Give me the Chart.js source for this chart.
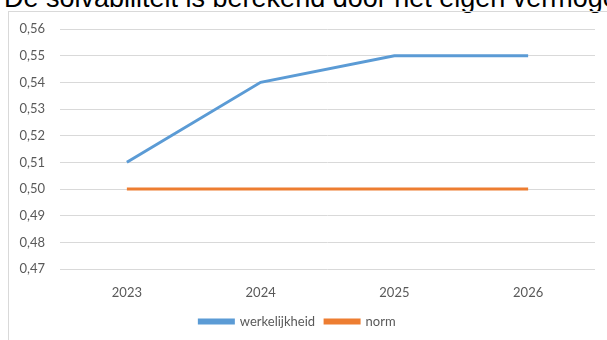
<!DOCTYPE html>
<html>
<head>
<meta charset="utf-8">
<script src="https://cdn.jsdelivr.net/npm/chart.js@4.4.1/dist/chart.umd.min.js"></script>
<style>
  html, body { margin: 0; padding: 0; background: #fff; overflow: hidden; }
  body { width: 607px; height: 340px; position: relative; }
  #title {
    position: absolute; left: 4px; top: -17px; white-space: nowrap; line-height: 1.15;
    font-family: "Liberation Sans", Arial, sans-serif; font-size: 27px; color: #000;
  }
  #frame {
    position: absolute; left: 8px; top: 11px; width: 640px; height: 400px;
    border: 1px solid #d9d9d9; box-sizing: border-box;
  }
  #wrap { position: absolute; left: 0; top: 0; width: 607px; height: 340px; }
</style>
</head>
<body>
<div id="title">De solvabiliteit is berekend door het eigen vermogen te delen door het totale vermogen</div>
<div id="frame"></div>
<div id="wrap"><canvas id="myChart"></canvas></div>
<script>
// Chart data
const years = ["2023", "2024", "2025", "2026"];
const werkelijkheid = [0.51, 0.54, 0.55, 0.55];
const norm = [0.50, 0.50, 0.50, 0.50];
const yMin = 0.47;
const yMax = 0.56;

Chart.defaults.font.family = 'Lato, "Open Sans", sans-serif';
Chart.defaults.font.size = 13;
Chart.defaults.color = '#595959';

const ctx = document.getElementById("myChart");
new Chart(ctx, {
  type: 'line',
  data: {
    labels: years,
    datasets: [{
      label: "werkelijkheid",
      data: werkelijkheid,
      borderColor: "#5b9bd5",
      backgroundColor: "#5b9bd5",
      borderWidth: 3,
      pointRadius: 0,
      tension: 0
    }, {
      label: "norm",
      data: norm,
      borderColor: "#ed7d31",
      backgroundColor: "#ed7d31",
      borderWidth: 3,
      pointRadius: 0,
      tension: 0
    }]
  },
  options: {
    responsive: true,
    maintainAspectRatio: false,
    animation: false,
    layout: {
      padding: { top: 29, right: 12, bottom: 2, left: 0 }
    },
    scales: {
      x: {
        offset: true,
        grid: { display: false, drawTicks: false },
        border: { display: false },
        ticks: { padding: 16 },
        afterFit: (scale) => { scale.height = 36; }
      },
      y: {
        min: yMin,
        max: yMax,
        grid: { color: "#d9d9d9", drawTicks: false },
        border: { display: false },
        ticks: {
          stepSize: 0.01,
          padding: 15,
          callback: (value) => value.toFixed(2).replace('.', ',')
        },
        afterFit: (scale) => { scale.width = 60; }
      }
    },
    plugins: {
      legend: {
        position: 'bottom',
        labels: { boxWidth: 34, boxHeight: 3, padding: 10 }
      },
      tooltip: { enabled: false }
    }
  }
});
</script>
</body>
</html>
